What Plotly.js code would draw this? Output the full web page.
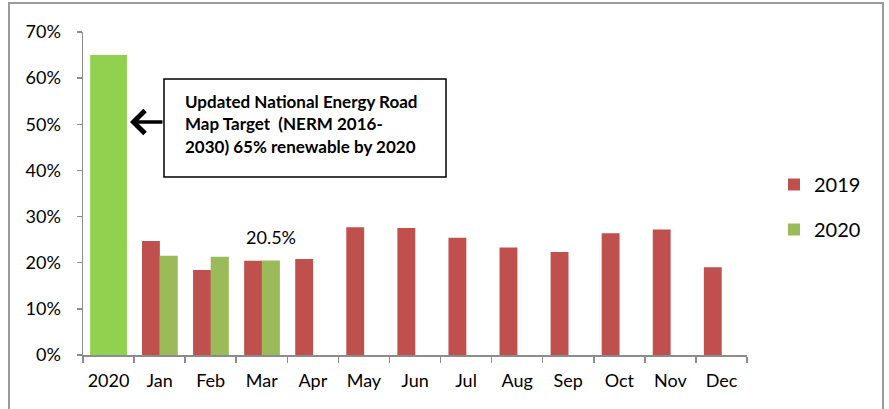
<!DOCTYPE html>
<html>
<head>
<meta charset="utf-8">
<script src="https://cdn.plot.ly/plotly-3.0.1.min.js"></script>
<style>html,body{margin:0;padding:0;background:#fff;}#chart{width:889px;height:409px;}</style>
</head>
<body>
<div id="chart"></div>
<script>
const categories = ['2020','Jan','Feb','Mar','Apr','May','Jun','Jul','Aug','Sep','Oct','Nov','Dec'];
const series2019 = [null, 0.247, 0.184, 0.204, 0.208, 0.277, 0.275, 0.254, 0.233, 0.223, 0.264, 0.272, 0.190];
const series2020 = [null, 0.215, 0.213, 0.205, null, null, null, null, null, null, null, null, null];
const targetCategory = ['2020'];
const targetValue = [0.65];
const yTicks = [0, 0.1, 0.2, 0.3, 0.4, 0.5, 0.6, 0.7];
const noteLines = ['Updated National Energy Road', 'Map Target  (NERM 2016-', '2030) 65% renewable by 2020'];
const labelIndex = 3;

const FONT = 'Lato, "Open Sans", sans-serif';
const RED = '#C0504D', GREEN = '#9BBB59', BRIGHT = '#92D050';

const traces = [
  {type:'bar', name:'2019', x:categories, y:series2019, width:0.35, offset:-0.345,
   marker:{color:RED, line:{width:0}}, legendgroup:'a', hoverinfo:'x+y'},
  {type:'bar', name:'2020', x:categories, y:series2020, width:0.355, offset:0.0,
   marker:{color:GREEN, line:{width:0}}, legendgroup:'b', hoverinfo:'x+y'},
  {type:'bar', name:'Target', x:targetCategory, y:targetValue, width:0.72, offset:-0.36,
   marker:{color:BRIGHT, line:{width:0}}, showlegend:false, hoverinfo:'x+y'}
];

const px2x = p => (p - 83) / 664;
const px2y = p => (355 - p) / 323;

const annotations = [
  {xref:'x', yref:'y', x:categories[labelIndex], y:series2020[labelIndex], xshift:9.5, yshift:10,
   text:(series2020[labelIndex]*100).toFixed(1)+'%', showarrow:false, yanchor:'bottom',
   font:{family:FONT, size:18, color:'#000'}},
  {xref:'paper', yref:'paper', x:px2x(130), y:px2y(122), ax:34, ay:0, text:'',
   showarrow:true, arrowhead:4, arrowsize:1.3, arrowwidth:3.4, arrowcolor:'#000'}
];
const lineYs = [101, 124, 146];
noteLines.forEach((t,i)=>annotations.push({xref:'paper', yref:'paper', x:px2x(183), y:px2y(lineYs[i]),
  xanchor:'left', yanchor:'middle', text:'<b>'+t+'</b>', showarrow:false,
  font:{family:FONT, size:17, color:'#000'}}));

const layout = {
  width:889, height:409,
  margin:{l:83, r:142, t:32, b:54},
  paper_bgcolor:'#fff', plot_bgcolor:'#fff',
  barmode:'overlay',
  font:{family:FONT, size:18, color:'#000'},
  showlegend:true,
  legend:{x:px2x(774), y:px2y(165), xanchor:'left', yanchor:'top', traceorder:'grouped', tracegroupgap:16,
    font:{family:FONT, size:20, color:'#000'}, bgcolor:'rgba(0,0,0,0)'},
  xaxis:{type:'category', categoryorder:'array', categoryarray:categories, range:[-0.5, 12.5],
    showline:true, linecolor:'#8c8c8c', linewidth:1.5, ticks:'outside', tickson:'boundaries',
    ticklen:6, tickcolor:'#8c8c8c', tickwidth:1.5, showgrid:false, zeroline:false, tickangle:0,
    tickfont:{family:FONT, size:18, color:'#000'}, ticklabelstandoff:9},
  yaxis:{range:[0, 0.7], tickvals:yTicks, tickformat:'.0%', showline:true, linecolor:'#8c8c8c', linewidth:1.5,
    ticks:'outside', ticklen:5, tickcolor:'#8c8c8c', tickwidth:1.5, showgrid:false, zeroline:false,
    tickfont:{family:FONT, size:18, color:'#000'}, ticklabelstandoff:12},
  shapes:[
    {type:'rect', xref:'paper', yref:'paper', x0:px2x(9), x1:px2x(883), y0:px2y(420), y1:px2y(3),
     line:{color:'#9a9a9a', width:2}, fillcolor:'rgba(0,0,0,0)'},
    {type:'rect', xref:'paper', yref:'paper', x0:px2x(164), x1:px2x(446), y0:px2y(177), y1:px2y(79),
     line:{color:'#000', width:1.5}, fillcolor:'#fff'}
  ],
  annotations:annotations
};

Plotly.newPlot('chart', traces, layout, {displayModeBar:false, staticPlot:true});
</script>
</body>
</html>
